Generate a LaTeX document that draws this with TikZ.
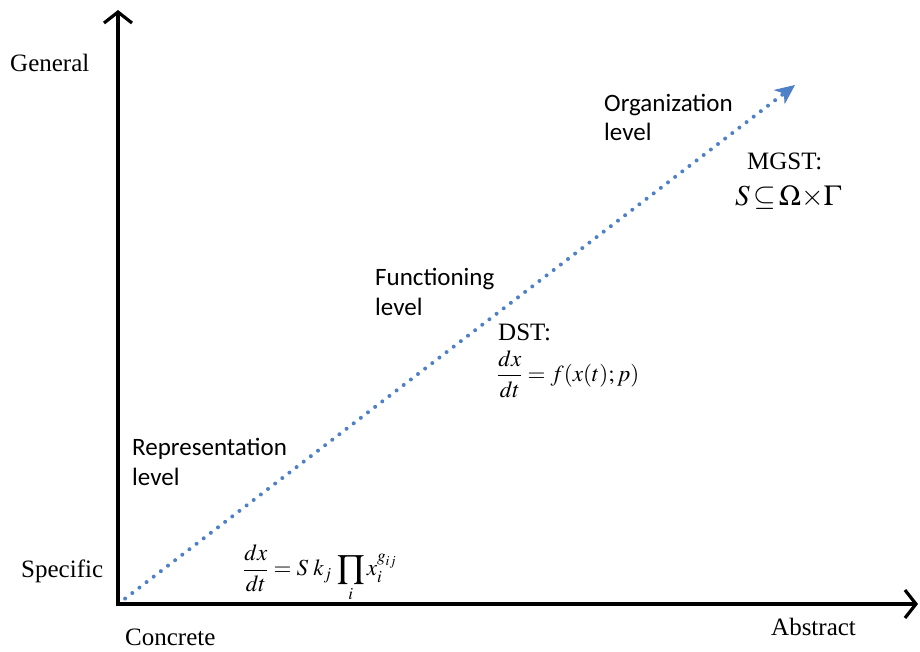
\documentclass[tikz,border=0pt]{standalone}
\usepackage{amsmath,amssymb}
\usepackage{mathptmx}
\usepackage{fontspec}
\setmainfont{Liberation Serif}
\newfontfamily\lblsans{Carlito}
\usetikzlibrary{arrows.meta}
\definecolor{dotblue}{RGB}{78,128,200}
\tikzset{
  axis/.style={line width=3.6pt,-{Straight Barb[length=11pt,width=28pt,line width=3.2pt]}},
  diag/.style={dotblue,line width=4pt,line cap=round,dash pattern=on 0pt off 9pt,-{Stealth[length=20pt,width=18pt,inset=6pt,line width=1pt]}},
  serif/.style={font=\fontsize{25}{30}\selectfont,anchor=base west,inner sep=0pt},
  lvl/.style={font=\lblsans\fontsize{25}{30}\selectfont,anchor=base west,inner sep=0pt,align=left},
  eq/.style={font=\fontsize{23}{28}\selectfont,anchor=west,inner sep=0pt}
}
\begin{document}
\begin{tikzpicture}[x=1pt,y=-1pt]
\useasboundingbox (0,0) rectangle (920,652);
\coordinate (O) at (118,604);
\coordinate (Ytop) at (118,10);
\coordinate (Xend) at (918,604);
\coordinate (Dend) at (795,85);
\draw[diag] (O) -- (Dend);
\draw[axis] (O) -- (Ytop);
\draw[axis] ([xshift=-1.8pt]O) -- (Xend);
\node[serif] (gen) at (10,72) {General};
\node[serif] (spec) at (21,577) {Specific};
\node[serif] (conc) at (125,645) {Concrete};
\node[serif] (abs) at (771,635) {Abstract};
\node[lvl] (org) at (604,112) {Organization};
\node[lvl] (orgl) at (604,141) {level};
\node[lvl] (fun) at (375,285) {Functioning};
\node[lvl] (funl) at (375,315) {level};
\node[lvl] (rep) at (132,455) {Representation};
\node[lvl] (repl) at (132,485) {level};
\node[serif] (mgst) at (747,170) {MGST:};
\node[anchor=base west,inner sep=0pt,font=\fontsize{29}{34}\selectfont] (mgsteq) at (735,206) {$S\,{\subseteq}\,\Omega{\times}\Gamma$};
\node[serif] (dst) at (498,340) {DST:};
\node[eq] (dsteq) at (497,374) {$\dfrac{dx}{dt}=f(x(t);p)$};
\node[eq] (repeq) at (243,573) {$\dfrac{dx}{dt}=S\;k_j\,\displaystyle\prod_i x_i^{g_{ij}}$};
\end{tikzpicture}
\end{document}
